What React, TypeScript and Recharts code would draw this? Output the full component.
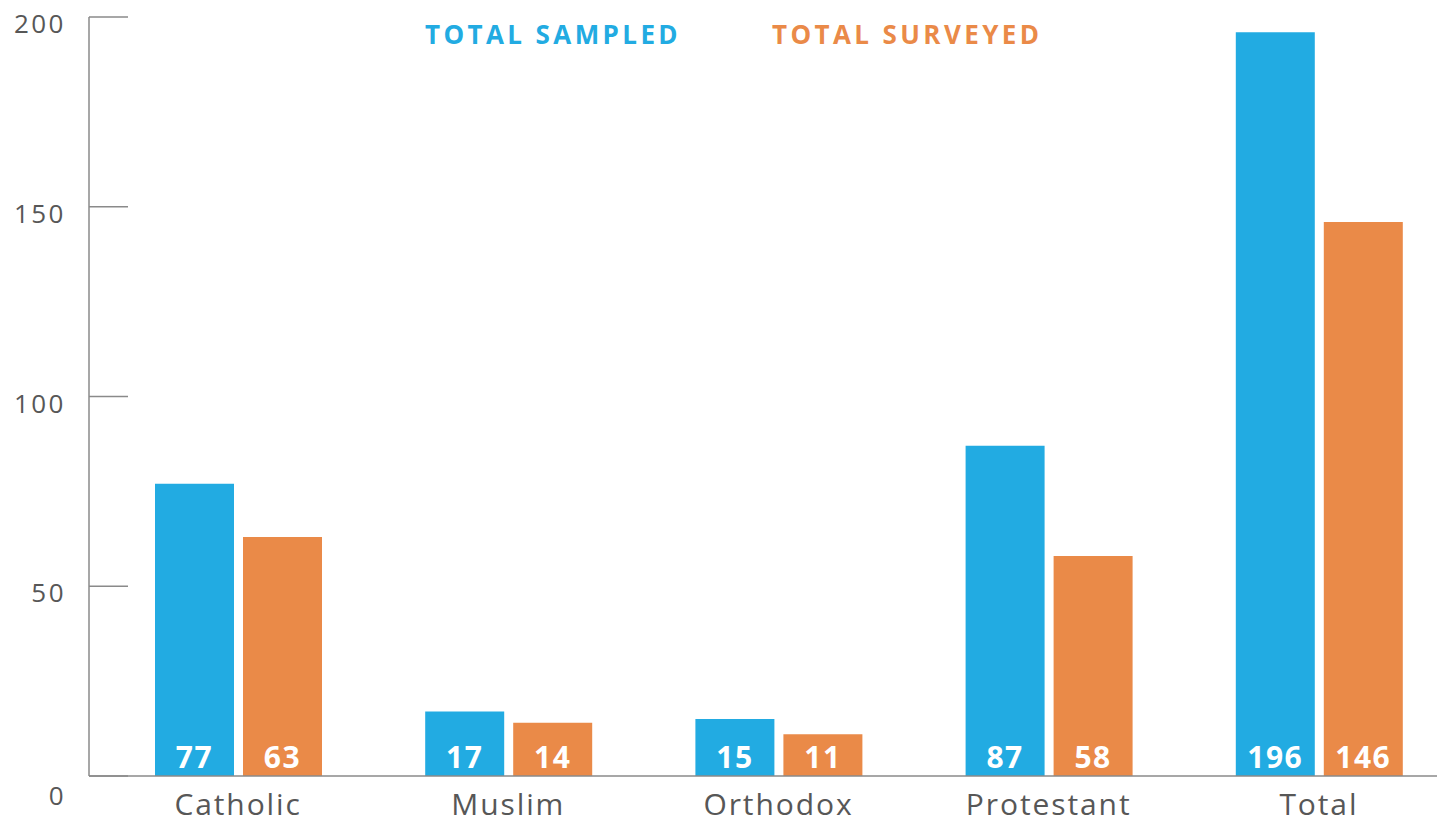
import React from 'react';
import { BarChart, Bar, XAxis, YAxis, LabelList } from 'recharts';

const categories = ['Catholic', 'Muslim', 'Orthodox', 'Protestant', 'Total'];
const sampled = [77, 17, 15, 87, 196];
const surveyed = [63, 14, 11, 58, 146];
const yTicks = [0, 50, 100, 150, 200];
const seriesNames = ['TOTAL SAMPLED', 'TOTAL SURVEYED'];

const BLUE = '#22abe2';
const ORANGE = '#ea8a48';
const AXIS = '#8a8a8a';
const TEXT = '#575757';
const FONT = '"Open Sans", "Noto Sans", sans-serif';

const data = categories.map((name, i) => ({
  name,
  sampled: sampled[i],
  surveyed: surveyed[i],
}));

// y ticks: short line pointing into the plot, label on the left
const YTick = ({ x, y, payload }: any) => (
  <g>
    <line x1={x} y1={y} x2={x + 39} y2={y} stroke={AXIS} strokeWidth={1.5} />
    <text
      x={x - 23}
      y={payload.value === 0 ? y + 19 : y + 6}
      textAnchor="end"
      dominantBaseline="central"
      fill={TEXT}
      fontSize={26}
      letterSpacing={2.5}
      fontFamily={FONT}
    >
      {payload.value}
    </text>
  </g>
);

const XTick = ({ x, y, payload }: any) => (
  <text x={x} y={y + 31} textAnchor="middle" fill={TEXT} fontSize={30} letterSpacing={1.9} fontFamily={FONT}>
    {payload.value}
  </text>
);

const barLabel = {
  position: 'insideBottom' as const,
  offset: 8,
  fill: '#fff',
  fontSize: 30,
  fontWeight: 700,
  letterSpacing: 1.5,
  fontFamily: FONT,
};

const App: React.FC = () => {
  return (
    <div style={{ position: 'absolute', left: 0, top: 0, width: 1437, height: 826, overflow: 'hidden', background: '#fff' }}>
      <BarChart
        width={1456}
        height={826}
        data={data}
        margin={{ top: 17, right: 2, bottom: 0, left: 0 }}
        barGap={9}
        barSize={79}
      >
        <XAxis
          dataKey="name"
          height={50}
          padding={{ left: 14, right: 0 }}
          axisLine={{ stroke: AXIS, strokeWidth: 1.5 }}
          tickLine={false}
          tick={<XTick />}
          interval={0}
        />
        <YAxis
          width={89}
          domain={[0, 200]}
          ticks={yTicks}
          tickSize={0}
          tickMargin={0}
          tickLine={false}
          axisLine={{ stroke: AXIS, strokeWidth: 1.5 }}
          tick={<YTick />}
        />
        <Bar dataKey="sampled" name={seriesNames[0]} fill={BLUE} isAnimationActive={false}>
          <LabelList dataKey="sampled" {...barLabel} />
        </Bar>
        <Bar dataKey="surveyed" name={seriesNames[1]} fill={ORANGE} isAnimationActive={false}>
          <LabelList dataKey="surveyed" {...barLabel} />
        </Bar>
      </BarChart>
      {/* legend as plain text at the top */}
      <div
        style={{
          position: 'absolute',
          top: 16,
          left: 0,
          fontFamily: FONT,
          fontWeight: 700,
          fontSize: 26,
          letterSpacing: 3.4,
        }}
      >
        <span style={{ position: 'absolute', left: 425, color: BLUE, whiteSpace: 'nowrap' }}>{seriesNames[0]}</span>
        <span style={{ position: 'absolute', left: 772, color: ORANGE, whiteSpace: 'nowrap' }}>{seriesNames[1]}</span>
      </div>
    </div>
  );
};

export default App;
